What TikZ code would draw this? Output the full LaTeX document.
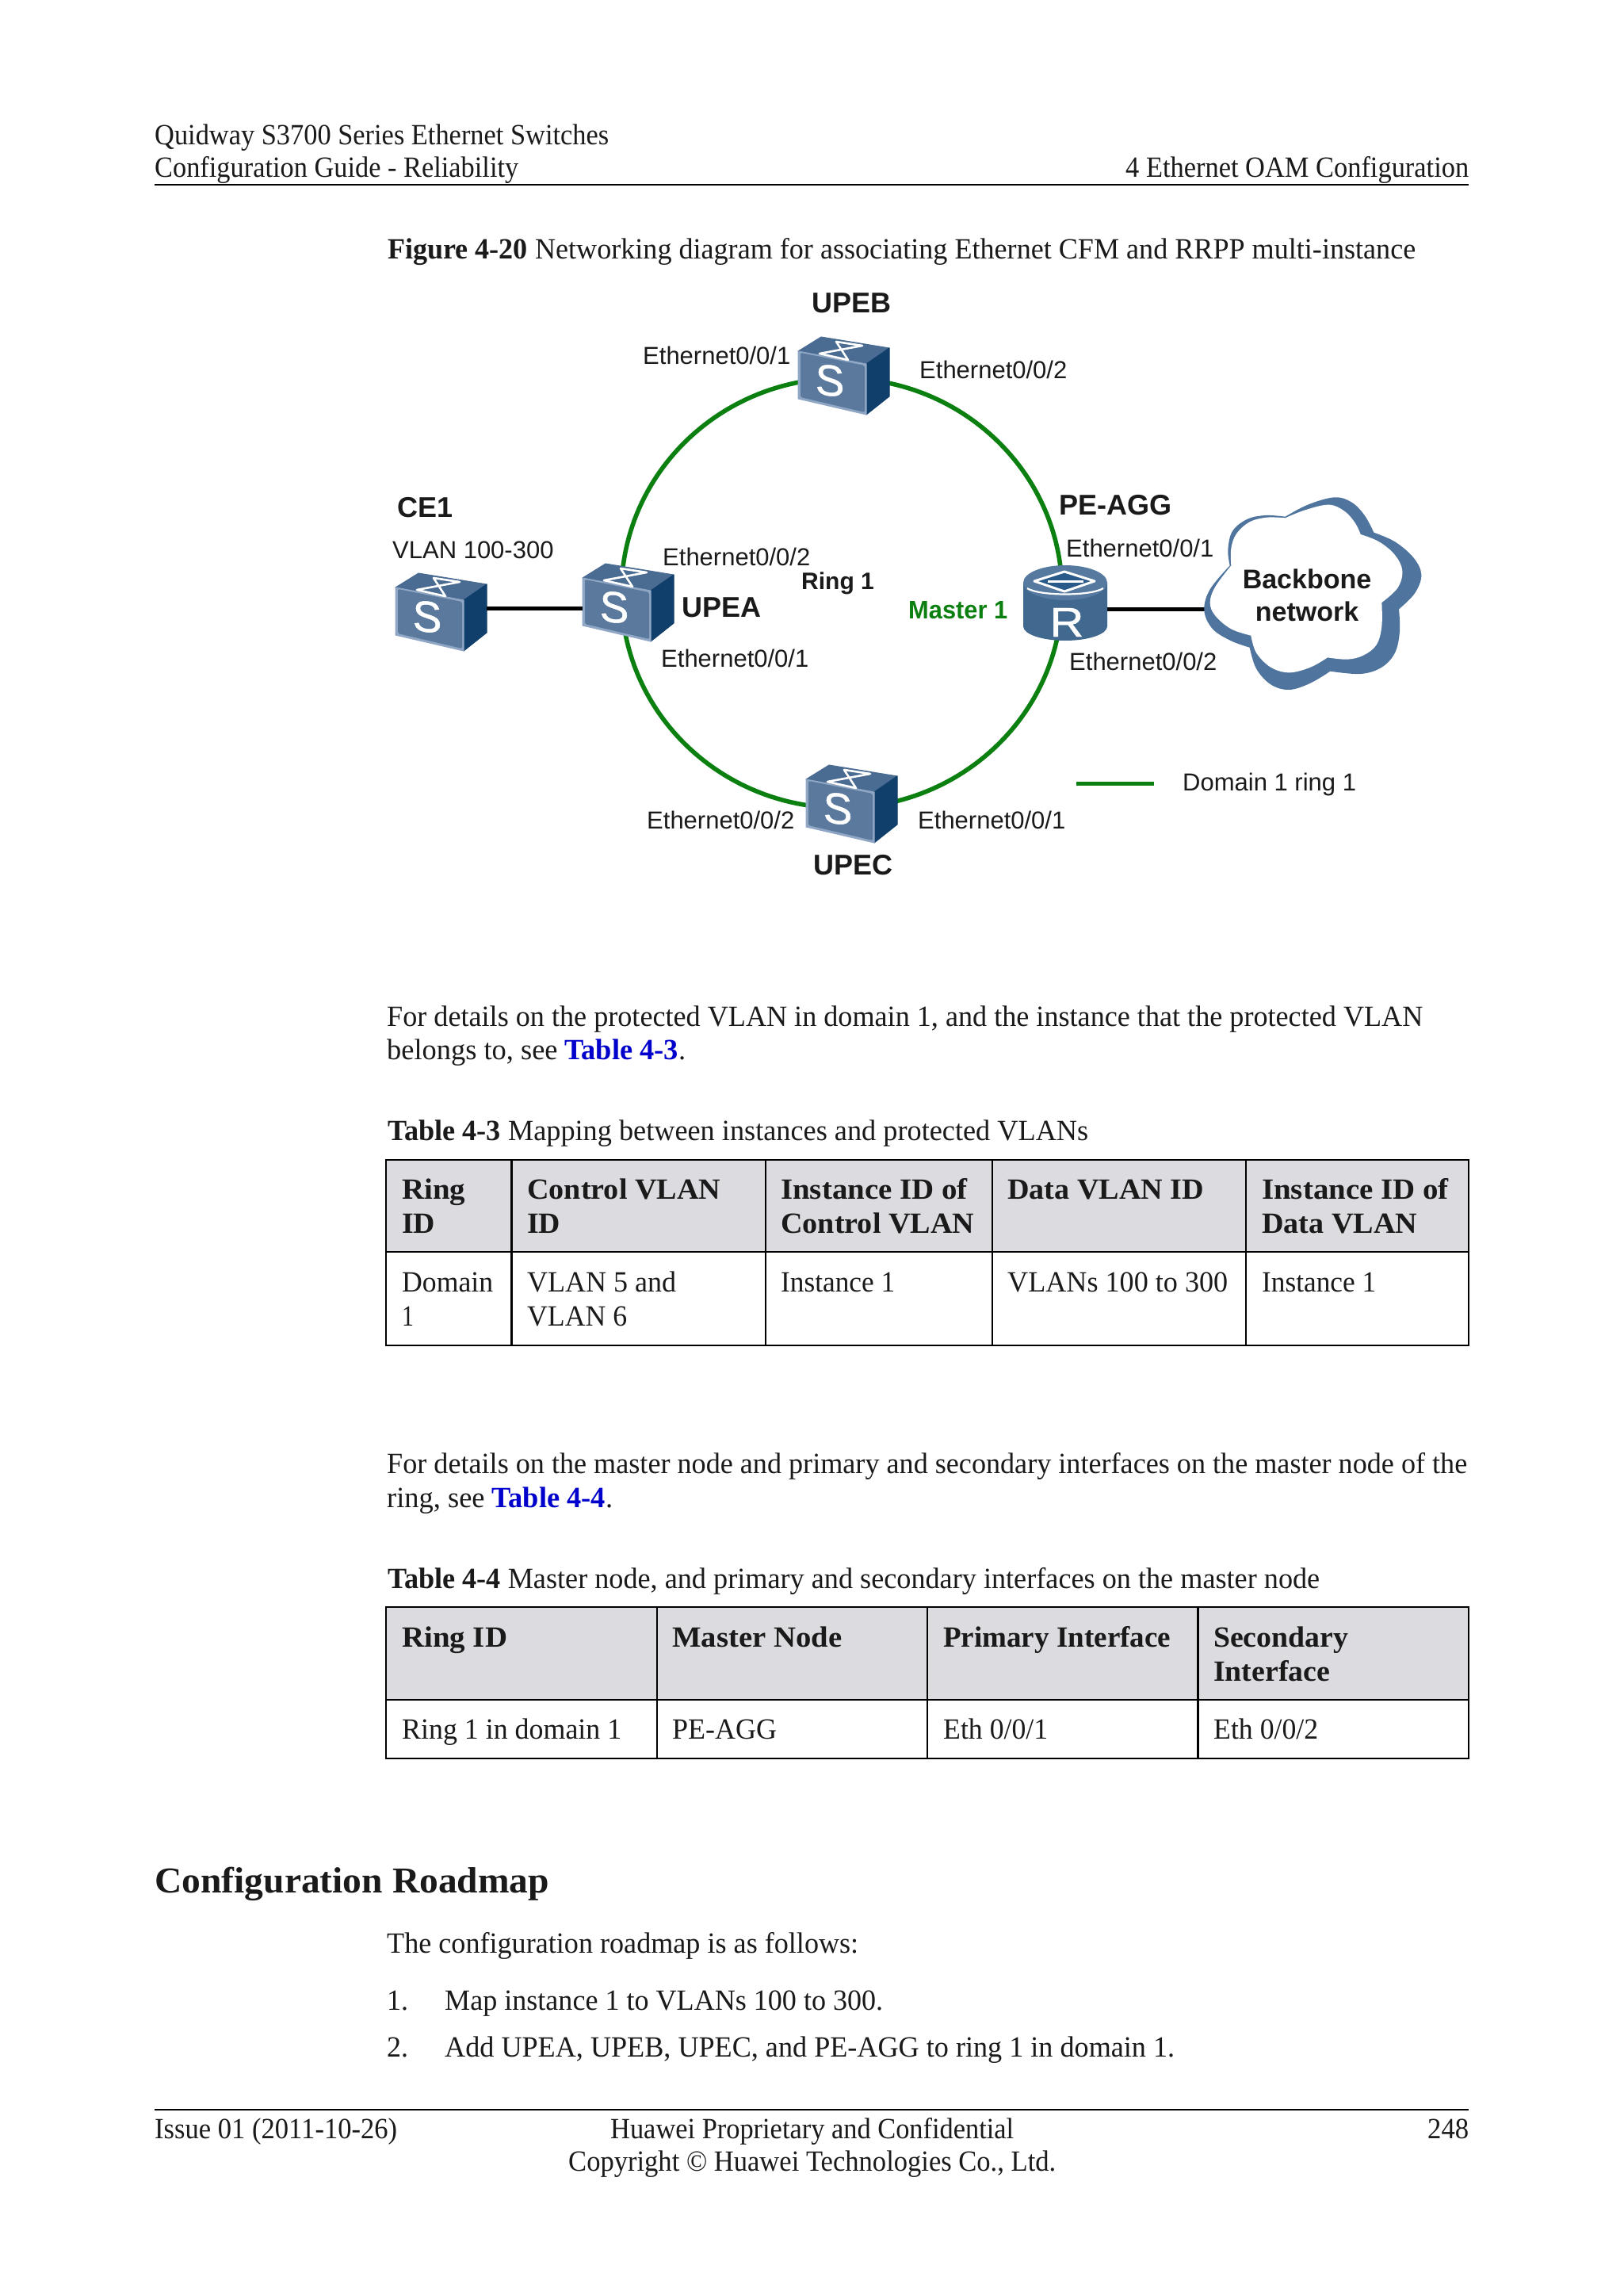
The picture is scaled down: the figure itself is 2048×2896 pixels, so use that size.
\documentclass[tikz,border=0pt]{standalone}
\usepackage{fontspec}
\usepackage{graphicx}
\usetikzlibrary{shapes.geometric}
\setmainfont{Liberation Serif}
\newfontfamily\arfont{Liberation Sans}
\newfontfamily\iconfont[FakeBold=0.9]{Liberation Sans}
\definecolor{ringgreen}{HTML}{0B7F10}
\definecolor{swfront}{HTML}{5A799C}
\definecolor{swtop}{HTML}{4A6B92}
\definecolor{swside}{HTML}{103F6C}
\definecolor{swrim}{HTML}{8FA6C4}
\definecolor{swedge}{HTML}{6C88A8}
\definecolor{cloudblue}{HTML}{4F759F}
\definecolor{rtbody}{HTML}{41698F}
\definecolor{rttop}{HTML}{567A9F}
\definecolor{rtdark}{HTML}{2A5A8A}
\definecolor{hdrgrey}{HTML}{DCDCE0}
\definecolor{linkblue}{HTML}{0000CC}
\definecolor{inktext}{HTML}{1A1A1A}
\newcommand{\fw}[2]{\resizebox{#1pt}{\height}{#2}}
\newcommand{\pageline}[5]{\node[pagetext] (#1) at (#2,#3) {\fw{#4}{#5}};}
\newcommand{\eth}[4]{\node[dialabel] (#1) at (#2,#3) {#4};}
\newcommand{\swicon}[3]{%
  \node[iconbox,anchor=north west] (#1) at (#2,#3) {};
  \begin{scope}[shift={(#2,#3)}]
    \filldraw[swtop,line width=1pt,line join=round] (0,18) -- (29,0) -- (115,14) -- (86,34) -- cycle;
    \filldraw[swside,line width=1pt,line join=round] (86,34) -- (115,14) -- (115,75) -- (86,98) -- cycle;
    \filldraw[swrim,line width=1pt,line join=round] (0,18) -- (86,34) -- (86,98) -- (0,78) -- cycle;
    \fill[swfront,rounded corners=2pt] (3,20) -- (84,36) -- (84,95) -- (3,76) -- cycle;
    \draw[white,line width=2.6pt,line join=round] (48,6) -- (63,29) -- (27,21) -- (81,11) -- cycle;
    \begin{scope}[shift={(40,55)}]
      \node[inner sep=0,text=white,font=\iconfont\fontsize{55}{55}\selectfont,cm={1,-0.1,0,1,(0,0)},transform shape] (#1s) at (0,0) {S};
    \end{scope}
  \end{scope}}
\tikzset{
  pagetext/.style={anchor=base west,inner sep=0,text=inktext,font=\fontsize{37}{43}\selectfont},
  dialabel/.style={anchor=base west,inner sep=0,text=inktext,font=\arfont\fontsize{31}{36}\selectfont},
  diahead/.style={anchor=base west,inner sep=0,text=inktext,font=\arfont\bfseries\fontsize{36}{42}\selectfont},
  iconbox/.style={inner sep=0,minimum width=115pt,minimum height=98pt},
  linkline/.style={black,line width=5pt},
  cellrule/.style={black,line width=2.6pt},
  pagerule/.style={black,line width=1.6pt}
}
\begin{document}
\begin{tikzpicture}[x=1pt,y=-1pt]
\useasboundingbox (0,0) rectangle (2048,2896);
\fill[white] (0,0) rectangle (2048,2896);
% page header
\pageline{h1}{195}{182}{573}{Quidway S3700 Series Ethernet Switches}
\pageline{h2}{195}{223}{459}{Configuration Guide - Reliability}
\pageline{h3}{1420}{223}{433}{4 Ethernet OAM Configuration}
\draw[pagerule] (195,233) -- (1853,233);
\pageline{figcap}{489}{326}{1297}{\textbf{Figure 4-20} Networking diagram for associating Ethernet CFM and RRPP multi-instance}
% ring
\node[ellipse,draw=ringgreen,line width=5.6pt,minimum width=556pt,minimum height=542pt,inner sep=0] (ring) at (1062,748) {};
% icons
\swicon{upeb}{1007}{425}
\swicon{ce}{499}{723}
\swicon{upea}{735}{711}
\swicon{upec}{1017}{965}
% router
\node[inner sep=0,minimum width=106pt,minimum height=96pt] (pe) at (1344,761) {};
\fill[rtbody] (1291,735) -- (1291,790) arc[start angle=180,end angle=360,x radius=53pt,y radius=18pt] -- (1397,735) -- cycle;
\fill[rttop] (1344,735) ellipse[x radius=53pt,y radius=22pt];
\draw[white,line width=2.2pt] (1296,742) .. controls (1312,752) and (1376,752) .. (1392,742);
\draw[white,fill=rtdark,line width=3pt,line join=round] (1343,721) -- (1381,733) -- (1343,746) -- (1305,733) -- cycle;
\fill[white] (1322,731.5) -- (1367,731.5) -- (1367,734.5) -- (1322,734.5) -- cycle;
\node[inner sep=0,text=white,font=\iconfont\fontsize{46}{46}\selectfont,anchor=base] (per) at (1346,803) {\resizebox{43pt}{36pt}{R}};
% links
\node[inner sep=0,minimum width=270pt,minimum height=240pt] (cloud) at (1655,764) {};
\draw[linkline] ([yshift=5pt]ce.east) -- ([yshift=-7pt]upea.west);
\draw[linkline] ([yshift=-7pt]pe.east) -- ([yshift=-7pt,xshift=2pt]pe.east -| cloud.west);
% cloud
\begin{scope}[shift={(1510,620)},x=0.33333pt,y=-0.33333pt]
\fill[cloudblue] plot[smooth,tension=0.6] coordinates {(335,95)(420,50)(520,22)(585,40)(635,90)(670,155)}
  -- plot[smooth,tension=0.6] coordinates {(670,155)(750,190)(820,250)(850,315)(825,385)(765,445)}
  -- plot[smooth,tension=0.6] coordinates {(765,445)(768,530)(750,610)(700,665)(620,690)(505,680)}
  -- plot[smooth,tension=0.6] coordinates {(505,680)(430,725)(350,750)(280,730)(225,670)(200,590)}
  -- plot[smooth,tension=0.6] coordinates {(200,590)(130,565)(60,520)(28,450)(50,370)(125,280)}
  -- plot[smooth,tension=0.6] coordinates {(125,280)(118,220)(135,150)(190,105)(260,90)(335,95)} -- cycle;
\fill[white] plot[smooth,tension=0.6] coordinates {(335,100)(410,70)(500,50)(560,75)(600,120)(620,162)}
  -- plot[smooth,tension=0.6] coordinates {(620,162)(690,190)(750,240)(778,300)(760,365)(700,420)}
  -- plot[smooth,tension=0.6] coordinates {(700,420)(700,510)(680,580)(630,620)(570,635)(495,628)}
  -- plot[smooth,tension=0.6] coordinates {(495,628)(430,665)(350,685)(280,665)(225,610)(205,545)}
  -- plot[smooth,tension=0.6] coordinates {(205,545)(130,520)(70,470)(50,420)(70,360)(130,280)}
  -- plot[smooth,tension=0.6] coordinates {(130,280)(130,215)(150,160)(200,115)(265,98)(335,100)} -- cycle;
\end{scope}
% diagram labels
\node[diahead] (lupeb) at (1024,394) {UPEB};
\node[diahead] (lce) at (501,652) {CE1};
\node[diahead] (lupea) at (860,778) {UPEA};
\node[diahead] (lupec) at (1026,1103) {UPEC};
\node[diahead] (lpe) at (1336,649) {PE-AGG};
\eth{e1}{811}{459}{Ethernet0/0/1}
\eth{e2}{1160}{477}{Ethernet0/0/2}
\eth{vl}{495}{704}{VLAN 100-300}
\eth{e3}{836}{713}{Ethernet0/0/2}
\eth{e4}{834}{841}{Ethernet0/0/1}
\eth{e5}{1345}{702}{Ethernet0/0/1}
\eth{e6}{1349}{845}{Ethernet0/0/2}
\eth{e7}{1158}{1045}{Ethernet0/0/1}
\eth{e8}{816}{1045}{Ethernet0/0/2}
\eth{dom}{1492}{997}{Domain 1 ring 1}
\node[anchor=base west,inner sep=0,text=inktext,font=\arfont\bfseries\fontsize{30}{34}\selectfont] (lring) at (1011,743) {Ring 1};
\node[anchor=base west,inner sep=0,text=ringgreen,font=\arfont\bfseries\fontsize{32}{36}\selectfont] (lmaster) at (1146,780) {\fw{125}{Master 1}};
\node[anchor=base,inner sep=0,text=inktext,font=\arfont\bfseries\fontsize{34}{40}\selectfont] (lbb) at (1649,742) {Backbone};
\node[anchor=base,inner sep=0,text=inktext,font=\arfont\bfseries\fontsize{34}{40}\selectfont] (lnet) at (1649,783) {network};
\coordinate (legl) at (1358,988);
\coordinate (legr) at (1456,988);
\draw[ringgreen,line width=5pt] (legl) -- (legr);
% paragraph
\pageline{p1}{488}{1294}{1307}{For details on the protected VLAN in domain 1, and the instance that the protected VLAN}
\pageline{p2}{488}{1336}{377}{belongs to, see \textcolor{linkblue}{\textbf{Table 4-3}}.}
\pageline{c3}{489}{1438}{884}{\textbf{Table 4-3} Mapping between instances and protected VLANs}
% table 4-3
\fill[hdrgrey] (487,1463) rectangle (1853,1579);
\draw[cellrule] (487,1463) rectangle (1853,1697);
\draw[cellrule] (487,1579) -- (1853,1579);
\foreach \cx in {645.5,966,1252,1572} \draw[cellrule] (\cx,1463) -- (\cx,1697);
\pageline{a1}{507}{1512}{80}{\textbf{Ring}}
\pageline{a2}{507}{1555}{42}{\textbf{ID}}
\pageline{a3}{665}{1512}{244}{\textbf{Control VLAN}}
\pageline{a4}{665}{1555}{42}{\textbf{ID}}
\pageline{a5}{985}{1512}{236}{\textbf{Instance ID of}}
\pageline{a6}{985}{1555}{244}{\textbf{Control VLAN}}
\pageline{a7}{1271}{1512}{248}{\textbf{Data VLAN ID}}
\pageline{a8}{1592}{1512}{236}{\textbf{Instance ID of}}
\pageline{a9}{1592}{1555}{196}{\textbf{Data VLAN}}
\pageline{b1}{507}{1629}{115}{Domain}
\pageline{b2}{507}{1672}{15}{1}
\pageline{b3}{665}{1629}{188}{VLAN 5 and}
\pageline{b4}{665}{1672}{126}{VLAN 6}
\pageline{b5}{985}{1629}{144}{Instance 1}
\pageline{b6}{1271}{1629}{278}{VLANs 100 to 300}
\pageline{b7}{1592}{1629}{144}{Instance 1}
% paragraph 2
\pageline{p3}{488}{1858}{1363}{For details on the master node and primary and secondary interfaces on the master node of the}
\pageline{p4}{488}{1901}{285}{ring, see \textcolor{linkblue}{\textbf{Table 4-4}}.}
\pageline{c4}{489}{2003}{1176}{\textbf{Table 4-4} Master node, and primary and secondary interfaces on the master node}
% table 4-4
\fill[hdrgrey] (487,2027) rectangle (1853,2144);
\draw[cellrule] (487,2027) rectangle (1853,2218);
\draw[cellrule] (487,2144) -- (1853,2144);
\foreach \cx in {829,1170,1511.5} \draw[cellrule] (\cx,2027) -- (\cx,2218);
\pageline{d1}{507}{2077}{133}{\textbf{Ring ID}}
\pageline{d2}{848}{2077}{214}{\textbf{Master Node}}
\pageline{d3}{1190}{2077}{287}{\textbf{Primary Interface}}
\pageline{d4}{1531}{2077}{170}{\textbf{Secondary}}
\pageline{d5}{1531}{2120}{147}{\textbf{Interface}}
\pageline{f1}{507}{2193}{277}{Ring 1 in domain 1}
\pageline{f2}{848}{2193}{132}{PE-AGG}
\pageline{f3}{1190}{2193}{132}{Eth 0/0/1}
\pageline{f4}{1531}{2193}{132}{Eth 0/0/2}
% roadmap
\node[pagetext,font=\bfseries\fontsize{46}{52}\selectfont] (road) at (195,2387) {\fw{498}{Configuration Roadmap}};
\pageline{r1}{488}{2463}{595}{The configuration roadmap is as follows:}
\pageline{r2}{488}{2535}{27}{1.}
\pageline{r3}{561}{2535}{553}{Map instance 1 to VLANs 100 to 300.}
\pageline{r4}{488}{2594}{27}{2.}
\pageline{r5}{561}{2594}{921}{Add UPEA, UPEB, UPEC, and PE-AGG to ring 1 in domain 1.}
% footer
\draw[pagerule] (195,2661) -- (1853,2661);
\pageline{g1}{195}{2697}{306}{Issue 01 (2011-10-26)}
\pageline{g2}{770}{2697}{509}{Huawei Proprietary and Confidential}
\pageline{g3}{1801}{2697}{52}{248}
\pageline{g4}{717}{2738}{615}{Copyright © Huawei Technologies Co., Ltd.}
\end{tikzpicture}
\end{document}
